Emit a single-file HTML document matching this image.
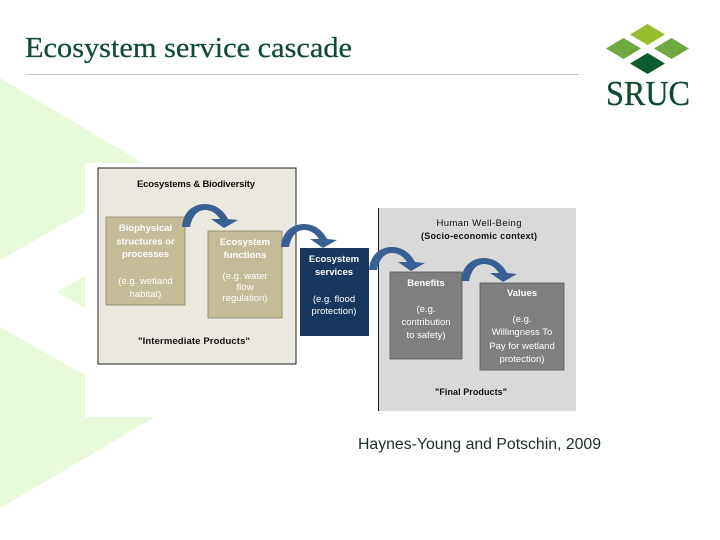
<!DOCTYPE html>
<html><head><meta charset="utf-8"><style>
html,body{margin:0;padding:0;background:#fff}
svg{display:block}
</style></head><body>
<svg width="720" height="540" viewBox="0 0 720 540" xmlns="http://www.w3.org/2000/svg">
<defs><filter id="b" x="-5%" y="-5%" width="110%" height="110%"><feGaussianBlur stdDeviation="0.35"/></filter></defs>
<rect width="720" height="540" fill="#fff"/>
<g fill="#e9f9dc">
<polygon points="0,78 143,163 85,163 85,212 0,260"/>
<polygon points="57,292 85,276 85,308"/>
<polygon points="0,327 85,375 85,417 155,417 0,508"/>
</g>
<text x="25" y="57" font-family="Liberation Serif" font-size="29" fill="#0f4a33" stroke="#0f4a33" stroke-width="0.25" textLength="327" lengthAdjust="spacingAndGlyphs">Ecosystem service cascade</text>
<rect x="27" y="74" width="552" height="1" fill="#c4c4c4"/>
<g>
<polygon points="647.500,24 665,34.500 647.500,45 630,34.500" fill="#97bf2d"/>
<polygon points="623.500,38 641,48.500 623.500,59 606,48.500" fill="#6fa940"/>
<polygon points="671.500,38 689,48.500 671.500,59 654,48.500" fill="#6fa940"/>
<polygon points="647.500,53 665,63.500 647.500,74 630,63.500" fill="#0f5c33"/>
<text x="606" y="105" font-family="Liberation Serif" font-size="35" fill="#0f4a30" stroke="#0f4a30" stroke-width="0.3" textLength="84" lengthAdjust="spacingAndGlyphs">SRUC</text>
</g>
<g filter="url(#b)" font-family="Liberation Sans" font-size="9.500" text-anchor="middle">
<rect x="98" y="168" width="198" height="196" fill="#ebe8df" stroke="#222" stroke-width="1"/>
<rect x="106" y="217" width="79" height="88" fill="#c4bc96" stroke="#8a8468" stroke-width="0.800"/>
<rect x="208" y="231" width="74" height="87" fill="#c4bc96" stroke="#8a8468" stroke-width="0.800"/>
<rect x="300" y="248" width="69" height="88" fill="#17375e"/>
<rect x="378" y="208" width="198" height="203" fill="#d9d9d9"/>
<rect x="378" y="208" width="1" height="203" fill="#222"/>
<rect x="390" y="272" width="72" height="87" fill="#7f7f7f" stroke="#555" stroke-width="0.800"/>
<rect x="480" y="283" width="84" height="87" fill="#7f7f7f" stroke="#555" stroke-width="0.800"/>

<g fill="#376092">
<path d="M182,227 C183,212 193,204 205,204 C216,204 224,211 228,219 L238,220 L224,228 L211,219 L220,219 C216,213 211,210 205,210 C197,210 192,217 190,227 Z"/>
<path transform="translate(99,20)" d="M182,227 C183,212 193,204 205,204 C216,204 224,211 228,219 L238,220 L224,228 L211,219 L220,219 C216,213 211,210 205,210 C197,210 192,217 190,227 Z"/>
<path transform="translate(187,43)" d="M182,227 C183,212 193,204 205,204 C216,204 224,211 228,219 L238,220 L224,228 L211,219 L220,219 C216,213 211,210 205,210 C197,210 192,217 190,227 Z"/>
<path transform="translate(279,54)" d="M182,227 C183,212 193,204 205,204 C216,204 224,211 228,219 L238,220 L224,228 L211,219 L220,219 C216,213 211,210 205,210 C197,210 192,217 190,227 Z"/>
</g>

<g fill="#111">
<text x="196" y="187" font-weight="bold" textLength="118" lengthAdjust="spacing">Ecosystems &amp; Biodiversity</text>
<text x="194" y="344" font-weight="bold" textLength="112" lengthAdjust="spacing">"Intermediate Products"</text>
<text x="479" y="226" textLength="85" lengthAdjust="spacing">Human Well-Being</text>
<text x="479" y="239" font-weight="bold" font-size="9" textLength="116" lengthAdjust="spacing">(Socio-economic context)</text>
<text x="471" y="395" font-weight="bold" font-size="9" textLength="72" lengthAdjust="spacing">"Final Products"</text>
</g>
<g fill="#fff" font-weight="bold">
<text x="145.500" y="231">Biophysical</text>
<text x="145.500" y="244.500">structures or</text>
<text x="145.500" y="257">processes</text>
<text x="245" y="245">Ecosystem</text>
<text x="245" y="258">functions</text>
</g>
<g fill="#fff">
<text x="145.500" y="284">(e.g. wetland</text>
<text x="145.500" y="297">habitat)</text>
<text x="245" y="279">(e.g. water</text>
<text x="245" y="290">flow</text>
<text x="245" y="301">regulation)</text>
</g>
<g fill="#fff">
<text x="334" y="262" font-weight="bold">Ecosystem</text>
<text x="334" y="275" font-weight="bold">services</text>
<text x="334" y="302">(e.g. flood</text>
<text x="334" y="314">protection)</text>
<text x="426" y="286" font-weight="bold">Benefits</text>
<text x="426" y="312">(e.g.</text>
<text x="426" y="325">contribution</text>
<text x="426" y="338">to safety)</text>
<text x="522" y="296" font-weight="bold">Values</text>
<text x="522" y="322">(e.g.</text>
<text x="522" y="335">Willingness  To</text>
<text x="522" y="349">Pay for wetland</text>
<text x="522" y="362">protection)</text>
</g>
</g>
<text x="358" y="449" font-family="Liberation Sans" font-size="16" fill="#1c2e26" textLength="243" lengthAdjust="spacingAndGlyphs">Haynes-Young and Potschin, 2009</text>
</svg>
</body></html>
